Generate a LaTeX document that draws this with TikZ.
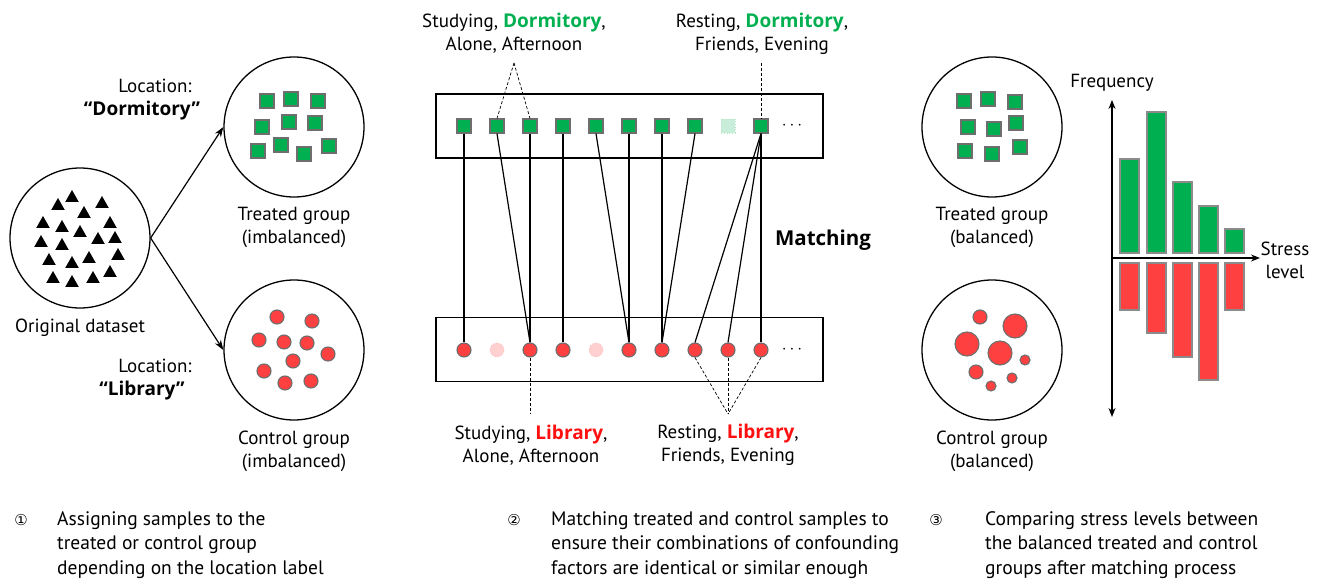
\documentclass[tikz,border=0pt]{standalone}
\usepackage{fontspec}
\setmainfont{PT Sans}
\newfontfamily\symfont{DejaVu Sans}
\newfontfamily\boldfam{Open Sans}
\newcommand\hb[1]{{\boldfam\bfseries #1}}
\usetikzlibrary{arrows.meta}
\definecolor{tgreen}{HTML}{00B050}
\definecolor{cred}{HTML}{FF4040}
\definecolor{lred}{HTML}{FF1010}
\definecolor{sgray}{HTML}{6E6E6E}
\definecolor{fgreen}{HTML}{C8EDD8}
\definecolor{fred}{HTML}{FFD0D0}
\begin{document}
\begin{tikzpicture}[x=1pt,y=-1pt,
  txt/.style={font=\fontsize{19}{23}\selectfont, align=center, inner sep=0pt},
  para/.style={font=\fontsize{19.5}{24.5}\selectfont, align=left, inner sep=0pt, anchor=north west},
  num/.style={font=\symfont\fontsize{15}{16}\selectfont, inner sep=0pt},
  bigcirc/.style={circle, draw=black, line width=1.3pt, minimum size=140pt, inner sep=0pt},
  sq/.style={rectangle, draw=sgray, line width=1.1pt, fill=tgreen, minimum size=14pt, inner sep=0pt},
  fsq/.style={rectangle, draw=tgreen!30, dotted, line width=0.8pt, fill=fgreen, minimum size=14pt, inner sep=0pt},
  dot/.style={circle, draw=sgray, line width=1.1pt, fill=cred, minimum size=14pt, inner sep=0pt},
  fdot/.style={circle, draw=cred!35, dotted, line width=0.8pt, fill=fred, minimum size=14pt, inner sep=0pt},
  tri/.style={fill=black},
  match/.style={line width=1.2pt, black},
  lead/.style={dashed, dash pattern=on 3pt off 2pt, line width=0.7pt},
  frame/.style={draw=black, line width=1.3pt},
  arr/.style={line width=1.2pt, -{Stealth[length=10pt,width=7pt]}},
  gbar/.style={fill=tgreen, draw=sgray!80, line width=1.1pt},
  rbar/.style={fill=cred, draw=sgray!80, line width=1.1pt},
  ellip/.style={font=\fontsize{17}{18}\selectfont, inner sep=0pt},
]
\useasboundingbox (0,0) rectangle (1318,585);

% ---------- Part 1 ----------
\node[bigcirc] (orig) at (80,238) {};
\node[bigcirc] (treat) at (294,127) {};
\node[bigcirc] (ctrl) at (294,350) {};
\foreach \x/\y in {72/197,58/205,102/203,84/213,43/223,62/227,110/223,80/232,41/242,62/245,98/239,115/238,49/260,72/263,89/258,118/255,53/278,72/282,93/278,110/272}
  \fill[tri] (\x,\y) +(0,-7) -- +(6.8,5) -- +(-6.8,5) -- cycle;
\foreach \x/\y in {267/101,291/99,318/101,262/127,289/122,315/123,258/151,281/145,304/154,329/146}
  \node[sq] at (\x,\y) {};
\foreach \x/\y in {277/317,312/321,259/340,284/342,307/343,328/354,293/361,264/371,285/383,311/381}
  \node[dot] at (\x,\y) {};
\draw[arr] (orig.east) -- (treat.west);
\draw[arr] (orig.east) -- (ctrl.west);
\node[txt] (origlab) at (80,328) {Original dataset};
\node[txt] (loc1) at (142,100) {\hspace*{26pt}Location:\\\hb{“Dormitory”}};
\node[txt] (loc2) at (142,380) {\hspace*{26pt}Location:\\\hb{“Library”}};
\node[txt] (treatlab) at (294,227) {Treated group\\(imbalanced)};
\node[txt] (ctrllab) at (294,451) {Control group\\(imbalanced)};

% ---------- Part 2 ----------
\node[frame, minimum width=387pt, minimum height=64pt, inner sep=0pt] (topbox) at (629.5,126) {};
\node[frame, minimum width=387pt, minimum height=64pt, inner sep=0pt] (botbox) at (629.5,349.5) {};
\foreach \i in {1,...,10} {
  \pgfmathsetmacro\xx{464+33*(\i-1)}
  \ifnum\i=9
    \node[fsq] (t\i) at (\xx,126) {};
  \else
    \node[sq] (t\i) at (\xx,126) {};
  \fi
  \ifnum\i=2
    \node[fdot] (b\i) at (\xx,350) {};
  \else\ifnum\i=5
    \node[fdot] (b\i) at (\xx,350) {};
  \else
    \node[dot] (b\i) at (\xx,350) {};
  \fi\fi
}
\node[ellip] (tdots) at (792,126) {$\cdots$};
\node[ellip] (bdots) at (792,350) {$\cdots$};
\foreach \a/\b in {1/1,2/3,3/3,4/4,5/6,6/6,7/7,8/7,10/8,10/9,10/10}
  \draw[match] (t\a.south) -- (b\b.north);
\node[txt, font=\fontsize{20.5}{23}\selectfont] (matchlab) at (823,240) {\hb{Matching}};

\node[txt] (tl) at (514,33.5) {Studying, \textcolor{tgreen}{\hb{Dormitory}},\\Alone, Afternoon};
\node[txt] (tr) at (762,33.5) {Resting, \textcolor{tgreen}{\hb{Dormitory}},\\Friends, Evening};
\node[txt] (bl) at (531,445) {Studying, \textcolor{lred}{\hb{Library}},\\Alone, Afternoon};
\node[txt] (br) at (728,445) {Resting, \textcolor{lred}{\hb{Library}},\\Friends, Evening};
\coordinate (tlp) at (514,63);
\coordinate (trp) at (761,63);
\coordinate (blp) at (530,414);
\coordinate (brp) at (728,414);
\draw[lead] (tlp) -- (t2.north);
\draw[lead] (tlp) -- (t3.north);
\draw[lead] (trp) -- (t10.north);
\draw[lead] (b3.south) -- (blp);
\draw[lead] (b8.south) -- (brp);
\draw[lead] (b9.south) -- (brp);
\draw[lead] (b10.south) -- (brp);

% ---------- Part 3 ----------
\node[bigcirc] (treatb) at (992,127) {};
\node[bigcirc] (ctrlb) at (992,350) {};
\foreach \x/\y in {964/101,988/99,1015/102,968/127,994/129,1016/123,965/151,992/154,1020/147}
  \node[sq] at (\x,\y) {};
\foreach \x/\y/\r in {980/317/7,1015/326/12,967/344/12,1000/353/12,1025/360/5,976/372/7,991/386/5,1012/378/5}
  \filldraw[fill=cred, draw=sgray, line width=1.1pt] (\x,\y) circle (\r);
\node[txt] (treatblab) at (992,227) {Treated group\\(balanced)};
\node[txt] (ctrlblab) at (992,451) {Control group\\(balanced)};

\coordinate (ytop) at (1112,100);
\coordinate (ybot) at (1112,417);
\coordinate (xo) at (1112,258);
\coordinate (xend) at (1260,258);
\foreach \x/\t in {1120/159,1147/112,1173/182,1199/206,1225/229}
  \draw[gbar] (\x,\t) rectangle (\x+19,253);
\foreach \x/\b in {1120/310,1147/333,1173/357,1199/380,1225/310}
  \draw[rbar] (\x,263) rectangle (\x+19,\b);
\draw[line width=1.2pt, {Stealth[length=9pt,width=7pt]}-{Stealth[length=9pt,width=7pt]}] (ybot) -- (ytop);
\draw[line width=1.2pt, -{Stealth[length=9pt,width=7pt]}] (xo) -- (xend);
\node[txt] (freq) at (1112,83) {Frequency};
\node[txt] (stress) at (1285,260) {Stress\\level};

% ---------- Captions ----------
\node[num] (n1) at (21,520) {①};
\node[num] (n2) at (514,520) {②};
\node[num] (n3) at (936,520) {③};
\node[para] (c1) at (57,511) {Assigning samples to the\\treated or control group\\depending on the location label};
\node[para] (c2) at (551,511) {Matching treated and control samples to\\ensure their combinations of confounding\\factors are identical or similar enough};
\node[para] (c3) at (985,511) {Comparing stress levels between\\the balanced treated and control\\groups after matching process};
\end{tikzpicture}
\end{document}
